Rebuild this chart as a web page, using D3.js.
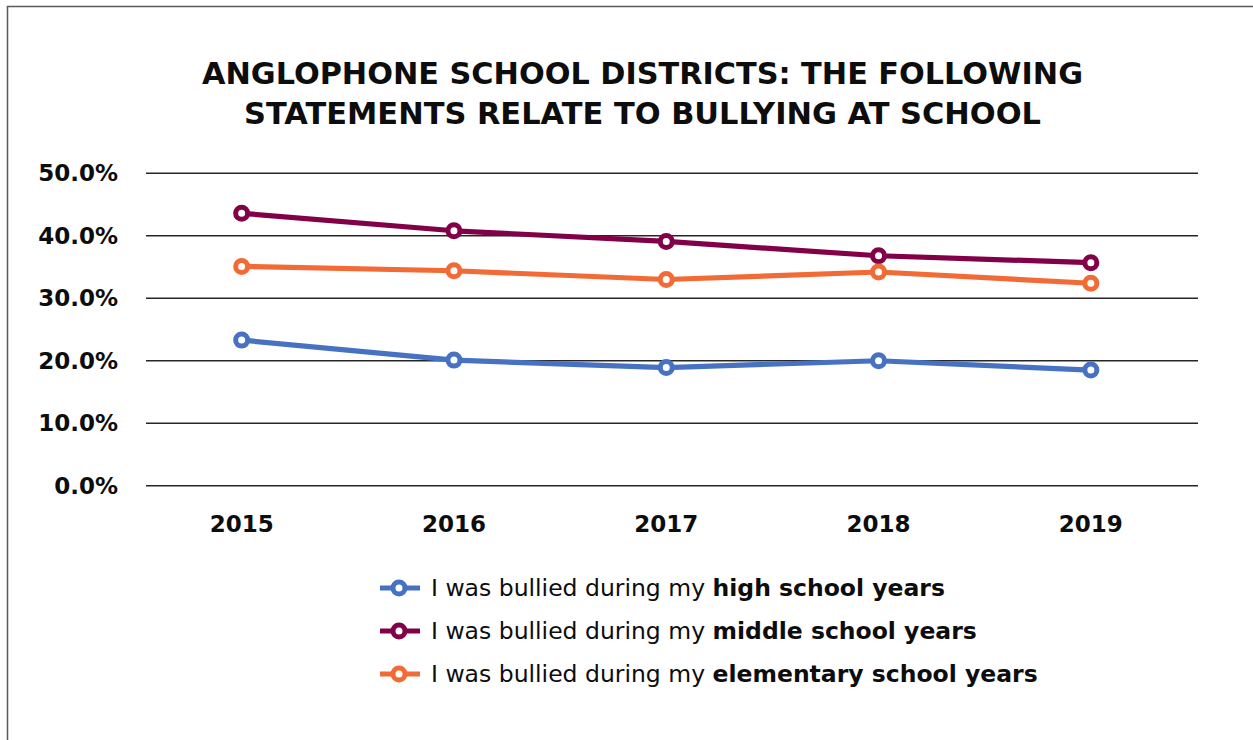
<!DOCTYPE html>
<html>
<head>
<meta charset="utf-8">
<script src="https://cdn.jsdelivr.net/npm/d3@7"></script>
<style>
  html, body { margin: 0; padding: 0; background: #fff; }
  svg { display: block; }
  text { font-family: "DejaVu Sans", sans-serif; fill: #0d0d0d; }
</style>
</head>
<body>
<svg id="chart" width="1253" height="740"></svg>
<script>
// Survey years and share of students reporting bullying (%)
const years = ["2015", "2016", "2017", "2018", "2019"];
const highSchool = [23.3, 20.1, 18.9, 20.0, 18.5];
const middleSchool = [43.6, 40.8, 39.1, 36.8, 35.7];
const elementarySchool = [35.1, 34.4, 33.0, 34.2, 32.4];
const yTicks = [0, 10, 20, 30, 40, 50];

const titleLines = [
  "ANGLOPHONE SCHOOL DISTRICTS: THE FOLLOWING",
  "STATEMENTS RELATE TO BULLYING AT SCHOOL"
];
const legendPrefix = "I was bullied during my ";
const legendBold = ["high school years", "middle school years", "elementary school years"];
const seriesColors = ["#4672c1", "#820048", "#f26b36"];

const series = [highSchool, middleSchool, elementarySchool].map((values, i) => ({
  values, bold: legendBold[i], color: seriesColors[i]
}));

const svg = d3.select("#chart");

// outer frame
svg.append("rect")
  .attr("x", 7.5).attr("y", 6.5)
  .attr("width", 1400).attr("height", 900)
  .attr("fill", "none").attr("stroke", "#5a5a5a").attr("stroke-width", 1.5);

// title
const titleWidths = [881, 797];
svg.append("g").selectAll("text").data(titleLines).join("text")
  .attr("x", 642.5)
  .attr("y", (d, i) => 84 + i * 40)
  .attr("text-anchor", "middle")
  .attr("font-size", 30)
  .attr("font-weight", "bold")
  .attr("textLength", (d, i) => titleWidths[i])
  .attr("lengthAdjust", "spacingAndGlyphs")
  .text(d => d);

// scales
const x = d3.scaleBand().domain(years).range([135.5, 1197]);
const y = d3.scaleLinear().domain([0, 50]).range([485.7, 173.3]);

// horizontal gridlines
svg.append("g").selectAll("line").data(yTicks).join("line")
  .attr("x1", 146).attr("x2", 1198)
  .attr("y1", d => y(d)).attr("y2", d => y(d))
  .attr("stroke", "#262626").attr("stroke-width", 1.4);

// y axis labels
const yAxis = d3.axisLeft(y).tickValues(yTicks)
  .tickFormat(d => d3.format(".1f")(d) + "%").tickSize(0).tickPadding(0);
svg.append("g").attr("transform", "translate(118,0)").call(yAxis)
  .call(g => g.select(".domain").remove())
  .call(g => g.selectAll("text")
    .attr("font-family", "DejaVu Sans, sans-serif")
    .attr("font-size", 23).attr("font-weight", "bold").attr("fill", "#0d0d0d"));

// x axis labels
const xAxis = d3.axisBottom(x).tickSize(0).tickPadding(0);
svg.append("g").attr("transform", "translate(0,515)").call(xAxis)
  .call(g => g.select(".domain").remove())
  .call(g => g.selectAll("text")
    .attr("font-family", "DejaVu Sans, sans-serif")
    .attr("font-size", 23).attr("font-weight", "bold").attr("fill", "#0d0d0d")
    .attr("dy", "0.72em"));

// lines and markers
const line = d3.line()
  .x((d, i) => x(years[i]) + x.bandwidth() / 2)
  .y(d => y(d));

const sg = svg.append("g").selectAll("g").data(series).join("g");
sg.append("path")
  .attr("d", d => line(d.values))
  .attr("fill", "none").attr("stroke", d => d.color)
  .attr("stroke-width", 5.2).attr("stroke-linejoin", "round");
sg.selectAll("circle").data(d => d.values.map(v => ({ v, color: d.color }))).join("circle")
  .attr("cx", (d, i) => x(years[i]) + x.bandwidth() / 2)
  .attr("cy", d => y(d.v))
  .attr("r", 6)
  .attr("fill", "#fff").attr("stroke", d => d.color).attr("stroke-width", 5);

// legend
const lg = svg.append("g").attr("transform", "translate(380,588)");
const item = lg.selectAll("g").data(series).join("g")
  .attr("transform", (d, i) => `translate(0,${i * 43})`);
item.append("line")
  .attr("x1", 0).attr("x2", 40).attr("y1", 0).attr("y2", 0)
  .attr("stroke", d => d.color).attr("stroke-width", 5.2);
item.append("circle")
  .attr("cx", 19).attr("cy", 0).attr("r", 6)
  .attr("fill", "#fff").attr("stroke", d => d.color).attr("stroke-width", 5);
const lt = item.append("text")
  .attr("x", 51).attr("y", 0).attr("dy", "0.36em")
  .attr("font-size", 23.5);
lt.append("tspan").text(legendPrefix);
lt.append("tspan").attr("font-weight", "bold").text(d => d.bold);
</script>
</body>
</html>
